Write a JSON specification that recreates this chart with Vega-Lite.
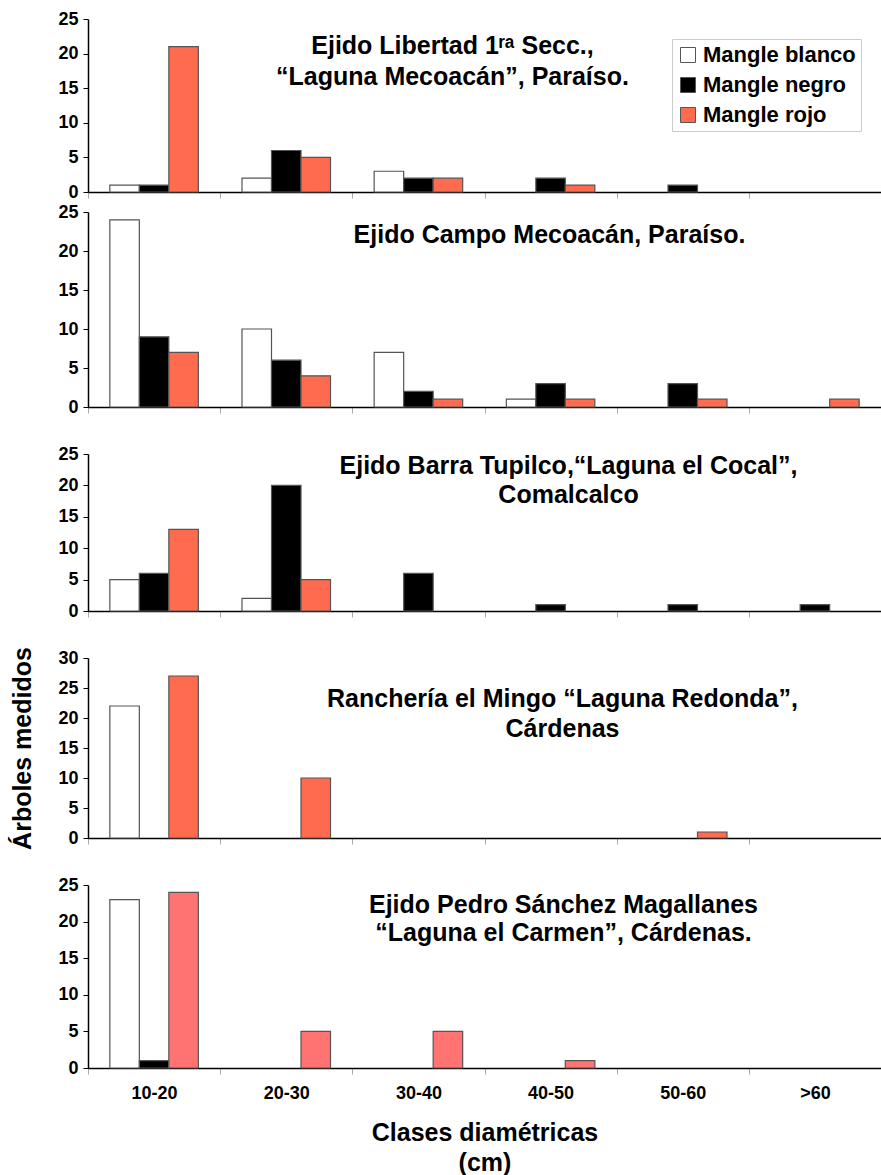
{
  "$schema": "https://vega.github.io/schema/vega-lite/v6.json",
  "padding": {"left": 10, "top": 10, "right": 0, "bottom": 5},
  "background": "white",
  "data": {"values": [
    {"p": 1, "clase": "10-20", "especie": "Mangle blanco", "n": 1},
    {"p": 1, "clase": "10-20", "especie": "Mangle negro", "n": 1},
    {"p": 1, "clase": "10-20", "especie": "Mangle rojo", "n": 21},
    {"p": 1, "clase": "20-30", "especie": "Mangle blanco", "n": 2},
    {"p": 1, "clase": "20-30", "especie": "Mangle negro", "n": 6},
    {"p": 1, "clase": "20-30", "especie": "Mangle rojo", "n": 5},
    {"p": 1, "clase": "30-40", "especie": "Mangle blanco", "n": 3},
    {"p": 1, "clase": "30-40", "especie": "Mangle negro", "n": 2},
    {"p": 1, "clase": "30-40", "especie": "Mangle rojo", "n": 2},
    {"p": 1, "clase": "40-50", "especie": "Mangle negro", "n": 2},
    {"p": 1, "clase": "40-50", "especie": "Mangle rojo", "n": 1},
    {"p": 1, "clase": "50-60", "especie": "Mangle negro", "n": 1},
    {"p": 2, "clase": "10-20", "especie": "Mangle blanco", "n": 24},
    {"p": 2, "clase": "10-20", "especie": "Mangle negro", "n": 9},
    {"p": 2, "clase": "10-20", "especie": "Mangle rojo", "n": 7},
    {"p": 2, "clase": "20-30", "especie": "Mangle blanco", "n": 10},
    {"p": 2, "clase": "20-30", "especie": "Mangle negro", "n": 6},
    {"p": 2, "clase": "20-30", "especie": "Mangle rojo", "n": 4},
    {"p": 2, "clase": "30-40", "especie": "Mangle blanco", "n": 7},
    {"p": 2, "clase": "30-40", "especie": "Mangle negro", "n": 2},
    {"p": 2, "clase": "30-40", "especie": "Mangle rojo", "n": 1},
    {"p": 2, "clase": "40-50", "especie": "Mangle blanco", "n": 1},
    {"p": 2, "clase": "40-50", "especie": "Mangle negro", "n": 3},
    {"p": 2, "clase": "40-50", "especie": "Mangle rojo", "n": 1},
    {"p": 2, "clase": "50-60", "especie": "Mangle negro", "n": 3},
    {"p": 2, "clase": "50-60", "especie": "Mangle rojo", "n": 1},
    {"p": 2, "clase": ">60", "especie": "Mangle rojo", "n": 1},
    {"p": 3, "clase": "10-20", "especie": "Mangle blanco", "n": 5},
    {"p": 3, "clase": "10-20", "especie": "Mangle negro", "n": 6},
    {"p": 3, "clase": "10-20", "especie": "Mangle rojo", "n": 13},
    {"p": 3, "clase": "20-30", "especie": "Mangle blanco", "n": 2},
    {"p": 3, "clase": "20-30", "especie": "Mangle negro", "n": 20},
    {"p": 3, "clase": "20-30", "especie": "Mangle rojo", "n": 5},
    {"p": 3, "clase": "30-40", "especie": "Mangle negro", "n": 6},
    {"p": 3, "clase": "40-50", "especie": "Mangle negro", "n": 1},
    {"p": 3, "clase": "50-60", "especie": "Mangle negro", "n": 1},
    {"p": 3, "clase": ">60", "especie": "Mangle negro", "n": 1},
    {"p": 4, "clase": "10-20", "especie": "Mangle blanco", "n": 22},
    {"p": 4, "clase": "10-20", "especie": "Mangle rojo", "n": 27},
    {"p": 4, "clase": "20-30", "especie": "Mangle rojo", "n": 10},
    {"p": 4, "clase": "50-60", "especie": "Mangle rojo", "n": 1},
    {"p": 5, "clase": "10-20", "especie": "Mangle blanco", "n": 23},
    {"p": 5, "clase": "10-20", "especie": "Mangle negro", "n": 1},
    {"p": 5, "clase": "10-20", "especie": "Mangle rojo", "n": 24},
    {"p": 5, "clase": "20-30", "especie": "Mangle rojo", "n": 5},
    {"p": 5, "clase": "30-40", "especie": "Mangle rojo", "n": 5},
    {"p": 5, "clase": "40-50", "especie": "Mangle rojo", "n": 1}
  ]},
  "bounds": "flush",
  "spacing": 20,
  "resolve": {"scale": {"x": "independent", "y": "independent", "xOffset": "independent", "color": "independent"}, "legend": {"color": "independent"}},
  "vconcat": [
    {
      "width": 793, "height": 173,
      "transform": [{"filter": "datum.p == 1"}],
      "title": {"text": ["Ejido Libertad 1ʳᵃ Secc.,", "“Laguna Mecoacán”, Paraíso."], "anchor": "middle", "frame": "group", "dx": -32, "offset": -80, "fontSize": 25, "lineHeight": 31, "font": "Liberation Sans", "fontWeight": "bold", "color": "black"},
      "mark": {"type": "bar", "stroke": "#555", "strokeWidth": 1.2},
      "encoding": {
        "x": {"field": "clase", "type": "nominal", "sort": null, "scale": {"domain": ["10-20", "20-30", "30-40", "40-50", "50-60", ">60"], "paddingInner": 0, "paddingOuter": 0}, "axis": {"labels": false, "title": null, "tickBand": "extent", "tickColor": "#aaa", "tickSize": 6, "domainColor": "black", "domainWidth": 1.5}},
        "xOffset": {"field": "especie", "type": "nominal", "scale": {"domain": ["Mangle blanco", "Mangle negro", "Mangle rojo"], "paddingInner": 0, "paddingOuter": 0.74}},
        "y": {"field": "n", "type": "quantitative", "scale": {"domain": [0, 25], "nice": false}, "axis": {"values": [0, 5, 10, 15, 20, 25], "title": null}},
        "color": {"field": "especie", "type": "nominal", "scale": {"domain": ["Mangle blanco", "Mangle negro", "Mangle rojo"], "range": ["#FFFFFF", "#000000", "#FF6B4F"]},
          "legend": {"orient": "top-right", "offset": 20, "title": null, "strokeColor": "#ccc", "fillColor": "white", "padding": 5, "labelFont": "Liberation Sans", "labelFontSize": 22, "labelFontWeight": "bold", "labelColor": "black", "symbolType": "square", "symbolSize": 225, "symbolStrokeColor": "#555", "symbolStrokeWidth": 1, "rowPadding": 8, "labelOffset": 4}}
      }
    },
    {
      "bounds": "flush",
      "spacing": 47,
      "resolve": {"scale": {"x": "independent", "y": "independent", "xOffset": "independent", "color": "independent"}, "legend": {"color": "independent"}},
      "vconcat": [
        {
          "width": 793, "height": 195,
          "transform": [{"filter": "datum.p == 2"}],
          "title": {"text": "Ejido Campo Mecoacán, Paraíso.", "anchor": "middle", "frame": "group", "dx": 65, "offset": -45, "fontSize": 25, "font": "Liberation Sans", "fontWeight": "bold", "color": "black"},
          "mark": {"type": "bar", "stroke": "#555", "strokeWidth": 1.2},
          "encoding": {
            "x": {"field": "clase", "type": "nominal", "sort": null, "scale": {"domain": ["10-20", "20-30", "30-40", "40-50", "50-60", ">60"], "paddingInner": 0, "paddingOuter": 0}, "axis": {"labels": false, "title": null, "tickBand": "extent", "tickColor": "#aaa", "tickSize": 6, "domainColor": "black", "domainWidth": 1.5}},
            "xOffset": {"field": "especie", "type": "nominal", "scale": {"domain": ["Mangle blanco", "Mangle negro", "Mangle rojo"], "paddingInner": 0, "paddingOuter": 0.74}},
            "y": {"field": "n", "type": "quantitative", "scale": {"domain": [0, 25], "nice": false}, "axis": {"values": [0, 5, 10, 15, 20, 25], "title": null}},
            "color": {"field": "especie", "type": "nominal", "scale": {"domain": ["Mangle blanco", "Mangle negro", "Mangle rojo"], "range": ["#FFFFFF", "#000000", "#FF6B4F"]}, "legend": null}
          }
        },
        {
          "width": 793, "height": 157,
          "transform": [{"filter": "datum.p == 3"}],
          "title": {"text": ["Ejido Barra Tupilco,“Laguna el Cocal”,", "Comalcalco"], "anchor": "middle", "frame": "group", "dx": 84, "offset": -63, "fontSize": 25, "lineHeight": 29, "font": "Liberation Sans", "fontWeight": "bold", "color": "black"},
          "mark": {"type": "bar", "stroke": "#555", "strokeWidth": 1.2},
          "encoding": {
            "x": {"field": "clase", "type": "nominal", "sort": null, "scale": {"domain": ["10-20", "20-30", "30-40", "40-50", "50-60", ">60"], "paddingInner": 0, "paddingOuter": 0}, "axis": {"labels": false, "title": null, "tickBand": "extent", "tickColor": "#aaa", "tickSize": 6, "domainColor": "black", "domainWidth": 1.5}},
            "xOffset": {"field": "especie", "type": "nominal", "scale": {"domain": ["Mangle blanco", "Mangle negro", "Mangle rojo"], "paddingInner": 0, "paddingOuter": 0.74}},
            "y": {"field": "n", "type": "quantitative", "scale": {"domain": [0, 25], "nice": false}, "axis": {"values": [0, 5, 10, 15, 20, 25], "title": null}},
            "color": {"field": "especie", "type": "nominal", "scale": {"domain": ["Mangle blanco", "Mangle negro", "Mangle rojo"], "range": ["#FFFFFF", "#000000", "#FF6B4F"]}, "legend": null}
          }
        },
        {
          "width": 793, "height": 180,
          "transform": [{"filter": "datum.p == 4"}],
          "title": {"text": ["Ranchería el Mingo “Laguna Redonda”,", "Cárdenas"], "anchor": "middle", "frame": "group", "dx": 78, "offset": -95, "fontSize": 25, "lineHeight": 30, "font": "Liberation Sans", "fontWeight": "bold", "color": "black"},
          "mark": {"type": "bar", "stroke": "#555", "strokeWidth": 1.2},
          "encoding": {
            "x": {"field": "clase", "type": "nominal", "sort": null, "scale": {"domain": ["10-20", "20-30", "30-40", "40-50", "50-60", ">60"], "paddingInner": 0, "paddingOuter": 0}, "axis": {"labels": false, "title": null, "tickBand": "extent", "tickColor": "#aaa", "tickSize": 6, "domainColor": "black", "domainWidth": 1.5}},
            "xOffset": {"field": "especie", "type": "nominal", "scale": {"domain": ["Mangle blanco", "Mangle negro", "Mangle rojo"], "paddingInner": 0, "paddingOuter": 0.74}},
            "y": {"field": "n", "type": "quantitative", "scale": {"domain": [0, 30], "nice": false}, "axis": {"values": [0, 5, 10, 15, 20, 25, 30], "title": "Árboles medidos", "titleFontSize": 25, "titleFont": "Liberation Sans", "titleFontWeight": "bold", "titleColor": "black", "titlePadding": 22}},
            "color": {"field": "especie", "type": "nominal", "scale": {"domain": ["Mangle blanco", "Mangle negro", "Mangle rojo"], "range": ["#FFFFFF", "#000000", "#FF6B4F"]}, "legend": null}
          }
        },
        {
          "width": 793, "height": 183,
          "transform": [{"filter": "datum.p == 5"}],
          "title": {"text": ["Ejido Pedro Sánchez Magallanes", "“Laguna el Carmen”, Cárdenas."], "anchor": "middle", "frame": "group", "dx": 79, "offset": -70, "fontSize": 25, "lineHeight": 28, "font": "Liberation Sans", "fontWeight": "bold", "color": "black"},
          "mark": {"type": "bar", "stroke": "#555", "strokeWidth": 1.2},
          "encoding": {
            "x": {"field": "clase", "type": "nominal", "sort": null, "scale": {"domain": ["10-20", "20-30", "30-40", "40-50", "50-60", ">60"], "paddingInner": 0, "paddingOuter": 0}, "axis": {"labelAngle": 0, "labelFont": "Liberation Sans", "labelFontSize": 18, "labelFontWeight": "bold", "labelPadding": 10, "title": ["Clases diamétricas", "(cm)"], "titleFont": "Liberation Sans", "titleFontSize": 25, "titleFontWeight": "bold", "titleLineHeight": 30, "titleColor": "black", "titlePadding": 18, "tickBand": "extent", "tickColor": "#aaa", "tickSize": 6, "domainColor": "black", "domainWidth": 1.5}},
            "xOffset": {"field": "especie", "type": "nominal", "scale": {"domain": ["Mangle blanco", "Mangle negro", "Mangle rojo"], "paddingInner": 0, "paddingOuter": 0.74}},
            "y": {"field": "n", "type": "quantitative", "scale": {"domain": [0, 25], "nice": false}, "axis": {"values": [0, 5, 10, 15, 20, 25], "title": null}},
            "color": {"field": "especie", "type": "nominal", "scale": {"domain": ["Mangle blanco", "Mangle negro", "Mangle rojo"], "range": ["#FFFFFF", "#000000", "#FF7373"]}, "legend": null}
          }
        }
      ]
    }
  ],
  "config": {
    "font": "Liberation Sans",
    "view": {"stroke": null},
    "axis": {"grid": false, "labelFont": "Liberation Sans", "labelFontWeight": "bold", "labelColor": "black", "labelFontSize": 18, "domainColor": "black", "domainWidth": 1.5, "tickColor": "black", "tickSize": 5, "labelPadding": 4},
    "axisY": {"labelPadding": 5}
  }
}
